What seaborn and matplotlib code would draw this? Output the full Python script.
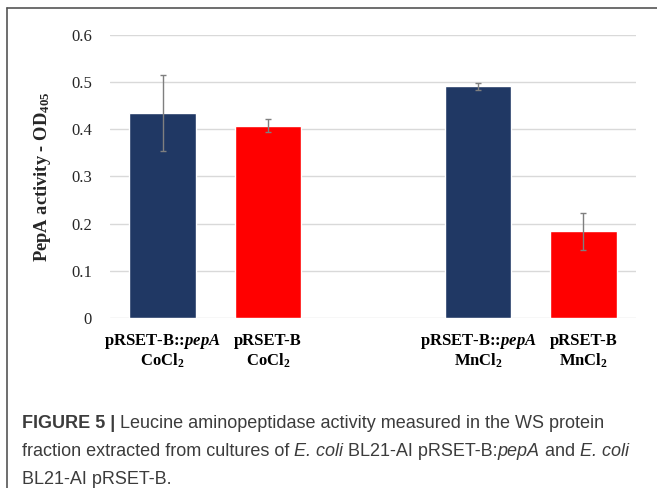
import numpy as np
import pandas as pd
import matplotlib
matplotlib.use("Agg")
import matplotlib.pyplot as plt
import seaborn as sns
from matplotlib.lines import Line2D
from matplotlib.transforms import blended_transform_factory

# data
labels = ["pRSET-B::$\\mathit{pepA}$\nCoCl$_2$", "pRSET-B\nCoCl$_2$", " ",
          "pRSET-B::$\\mathit{pepA}$\nMnCl$_2$", "pRSET-B\nMnCl$_2$"]
activity = [0.435, 0.408, np.nan, 0.491, 0.184]
errors = [0.081, 0.014, np.nan, 0.008, 0.039]
bar_colors = ["#203864", "#ff0000", "#ffffff", "#203864", "#ff0000"]
yticks = [0, 0.1, 0.2, 0.3, 0.4, 0.5, 0.6]
ytick_labels = ["0", "0.1", "0.2", "0.3", "0.4", "0.5", "0.6"]

sns.set_style("white")
plt.rcParams["font.family"] = ["Liberation Serif", "DejaVu Serif"]
plt.rcParams["mathtext.fontset"] = "custom"
plt.rcParams["mathtext.rm"] = "Liberation Serif:bold"
plt.rcParams["mathtext.it"] = "Liberation Serif:bold:italic"
plt.rcParams["mathtext.bf"] = "Liberation Serif:bold"

df = pd.DataFrame({"label": labels, "activity": activity, "err": errors})

fig = plt.figure(figsize=(6.57, 4.88), dpi=100)
ax = fig.add_axes([0.1674, 0.3484, 0.8006, 0.5799])

sns.barplot(data=df, x="label", y="activity", hue="label", order=labels,
            palette=dict(zip(labels, bar_colors)), legend=False,
            errorbar=None, width=0.63, saturation=1, ax=ax)
ax.errorbar(range(len(labels)), df["activity"], yerr=df["err"], fmt="none",
            ecolor="#7f7f7f", elinewidth=1, capsize=2, capthick=1)

ax.set_ylim(0, 0.6)
ax.set_xlim(-0.5, 4.5)
ax.set_yticks(yticks)
ax.set_yticklabels(ytick_labels, fontsize=12)
ax.tick_params(axis="y", length=0, pad=13)
ax.tick_params(axis="x", length=0)
ax.yaxis.grid(True, color="#d9d9d9", lw=1)
ax.set_axisbelow(True)
sns.despine(ax=ax, left=True, bottom=True)
ax.set_xlabel("")
ax.set_ylabel("PepA activity - OD$_{405}$", fontsize=13.3, fontweight="bold",
              labelpad=13)

# two-line category labels, each line on a shared baseline
ticks = ax.get_xticks()
ax.set_xticklabels([""] * len(ticks))
trans = blended_transform_factory(ax.transData, fig.transFigure)
line_base = [1 - 345 / 488, 1 - 366 / 488]
for x, lab in zip(ticks, labels):
    for part, yb in zip(lab.split("\n"), line_base):
        ax.text(x, yb, part, transform=trans, ha="center", va="baseline",
                fontsize=12, fontweight="bold", color="black", clip_on=False)

# frame lines around the panel
fig.add_artist(Line2D([7 / 657, 7 / 657], [0, 1 - 8 / 488], color="#555555", lw=1.2))
fig.add_artist(Line2D([7 / 657, 1], [1 - 8 / 488, 1 - 8 / 488], color="#555555", lw=1.2))

# caption, built from pieces so the italics sit inline
cap_lines = [
    [("FIGURE 5 |", "bold", "normal"),
     (" Leucine aminopeptidase activity measured in the WS protein", "normal", "normal")],
    [("fraction extracted from cultures of ", "normal", "normal"),
     ("E. coli", "normal", "italic"),
     (" BL21-AI pRSET-B:", "normal", "normal"),
     ("pepA", "normal", "italic"),
     (" and ", "normal", "normal"),
     ("E. coli", "normal", "italic")],
    [("BL21-AI pRSET-B.", "normal", "normal")],
]
cap_y = [1 - 431.5 / 488, 1 - 459.5 / 488, 1 - 487.5 / 488]
for line, y in zip(cap_lines, cap_y):
    prev = None
    for text, weight, style in line:
        kw = dict(fontsize=13, fontweight=weight, fontstyle=style,
                  family=["Liberation Sans", "DejaVu Sans"], color="#3c3c3c",
                  ha="left", va="bottom")
        if prev is None:
            prev = fig.text(22 / 657, y, text, **kw)
        else:
            prev = ax.annotate(text, xy=(1, 0), xycoords=prev,
                               annotation_clip=False, **kw)

fig.savefig("out.png", dpi=100)
